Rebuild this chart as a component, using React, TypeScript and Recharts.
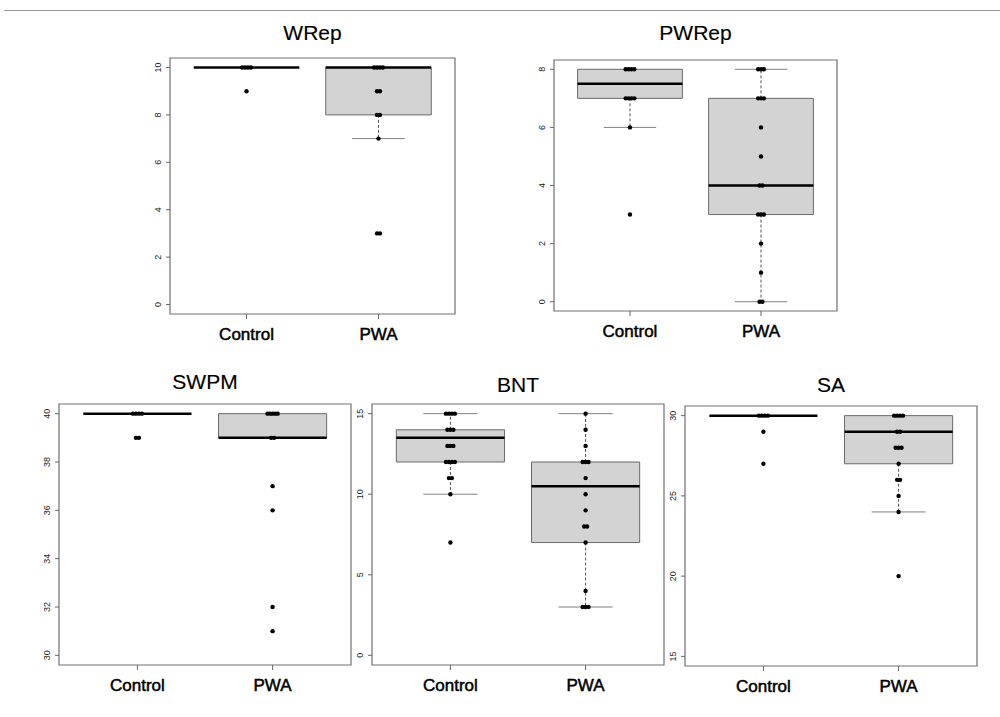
import {
  ComposedChart,
  XAxis,
  YAxis,
  Scatter,
  ReferenceArea,
  ReferenceLine,
} from 'recharts';

const groups = ['Control', 'PWA'];

// box summaries are [lower whisker, Q1, median, Q3, upper whisker]

// WRep
const wrepTicks = [0, 2, 4, 6, 8, 10];
const wrepControl = [10, 10, 10, 10, 9];
const wrepPwa = [10, 10, 10, 10, 9, 9, 8, 8, 7, 3, 3];
const wrepControlBox = [10, 10, 10, 10, 10];
const wrepPwaBox = [7, 8, 10, 10, 10];

// PWRep
const pwrepTicks = [0, 2, 4, 6, 8];
const pwrepControl = [8, 8, 8, 8, 7, 7, 7, 7, 6, 3];
const pwrepPwa = [8, 8, 8, 7, 7, 7, 6, 5, 4, 4, 3, 3, 3, 2, 1, 0, 0];
const pwrepControlBox = [6, 7, 7.5, 8, 8];
const pwrepPwaBox = [0, 3, 4, 7, 8];

// SWPM
const swpmTicks = [30, 32, 34, 36, 38, 40];
const swpmControl = [40, 40, 40, 40, 39, 39];
const swpmPwa = [40, 40, 40, 40, 40, 39, 39, 37, 36, 32, 31];
const swpmControlBox = [40, 40, 40, 40, 40];
const swpmPwaBox = [39, 39, 39, 40, 40];

// BNT
const bntTicks = [0, 5, 10, 15];
const bntControl = [15, 15, 15, 15, 14, 14, 14, 13, 13, 13, 12, 12, 12, 12, 11, 11, 10, 7];
const bntPwa = [15, 14, 13, 12, 12, 12, 11, 10, 9, 8, 8, 7, 4, 3, 3, 3];
const bntControlBox = [10, 12, 13.5, 14, 15];
const bntPwaBox = [3, 7, 10.5, 12, 15];

// SA
const saTicks = [15, 20, 25, 30];
const saControl = [30, 30, 30, 30, 29, 27];
const saPwa = [30, 30, 30, 30, 29, 29, 28, 28, 28, 27, 26, 26, 25, 24, 20];
const saControlBox = [30, 30, 30, 30, 30];
const saPwaBox = [24, 27, 29, 30, 30];

const FONT = "'Liberation Sans', Arial, Helvetica, sans-serif";

// side-by-side placement of tied values, like a stripchart jitter
function spread(values: number[], pos: number) {
  const counts: Record<string, number> = {};
  const seen: Record<string, number> = {};
  values.forEach((v) => {
    counts[v] = (counts[v] || 0) + 1;
  });
  return values.map((v) => {
    const n = counts[v];
    const k = seen[v] || 0;
    seen[v] = k + 1;
    const step = n > 1 ? Math.min(0.022, 0.075 / (n - 1)) : 0;
    return { x: pos + (k - (n - 1) / 2) * step, y: v };
  });
}

const YTick = (props: any) => {
  const { x, y, payload } = props;
  const tx = x - 3;
  return (
    <text
      x={tx}
      y={y}
      transform={`rotate(-90 ${tx} ${y})`}
      textAnchor="middle"
      fontSize={9}
      fill="#222"
      fontFamily={FONT}
    >
      {payload.value}
    </text>
  );
};

function boxParts(b: number[], pos: number, key: string) {
  const [lo, q1, med, q3, hi] = b;
  const parts: any[] = [];
  if (q3 > q1) {
    parts.push(
      <ReferenceArea
        key={key + 'box'}
        x1={pos - 0.4}
        x2={pos + 0.4}
        y1={q1}
        y2={q3}
        fill="#d3d3d3"
        fillOpacity={1}
        stroke="#6a6a6a"
        strokeWidth={1}
      />
    );
  }
  if (hi > q3) {
    parts.push(
      <ReferenceLine
        key={key + 'wh'}
        segment={[{ x: pos, y: q3 }, { x: pos, y: hi }]}
        stroke="#555"
        strokeDasharray="3 2"
      />,
      <ReferenceLine
        key={key + 'sh'}
        segment={[{ x: pos - 0.2, y: hi }, { x: pos + 0.2, y: hi }]}
        stroke="#808080"
      />
    );
  }
  if (lo < q1) {
    parts.push(
      <ReferenceLine
        key={key + 'wl'}
        segment={[{ x: pos, y: q1 }, { x: pos, y: lo }]}
        stroke="#555"
        strokeDasharray="3 2"
      />,
      <ReferenceLine
        key={key + 'sl'}
        segment={[{ x: pos - 0.2, y: lo }, { x: pos + 0.2, y: lo }]}
        stroke="#808080"
      />
    );
  }
  parts.push(
    <ReferenceLine
      key={key + 'med'}
      segment={[{ x: pos - 0.4, y: med }, { x: pos + 0.4, y: med }]}
      stroke="#000"
      strokeWidth={2.5}
    />
  );
  return parts;
}

type PanelProps = {
  title: string;
  ticks: number[];
  control: number[];
  pwa: number[];
  controlBox: number[];
  pwaBox: number[];
  left: number;
  top: number;
  right: number;
  bottom: number;
  titleY: number;
};

function Panel(p: PanelProps) {
  const w = p.right - p.left;
  const h = p.bottom - p.top;
  const lo = p.ticks[0];
  const hi = p.ticks[p.ticks.length - 1];
  const pad = (hi - lo) * 0.04;
  const dom = [lo - pad, hi + pad];
  const xDom = [0.42, 2.58];
  const points = [...spread(p.control, 1), ...spread(p.pwa, 2)];

  return (
    <div
      style={{
        position: 'absolute',
        left: p.left - 50,
        top: p.top - 40,
        width: w + 60,
        height: h + 80,
      }}
    >
      <div
        style={{
          position: 'absolute',
          left: 50,
          width: w,
          top: p.titleY - (p.top - 40) - 12,
          lineHeight: '24px',
          textAlign: 'center',
          fontSize: 21,
          fontFamily: FONT,
          color: '#000',
          WebkitTextStroke: '0.15px #000',
        }}
      >
        {p.title}
      </div>
      <ComposedChart
        width={w + 60}
        height={h + 80}
        margin={{ top: 40, right: 10, left: 10, bottom: 10 }}
      >
        <XAxis
          type="number"
          dataKey="x"
          domain={xDom}
          ticks={[1, 2]}
          interval={0}
          allowDataOverflow
          tickFormatter={(v: number) => groups[v - 1]}
          axisLine={false}
          tickLine={{ stroke: '#666' }}
          tickSize={5}
          tickMargin={9}
          height={30}
          tick={{
            fontSize: 17,
            fill: '#000',
            stroke: '#000',
            strokeWidth: 0.5,
            fontFamily: FONT,
          }}
        />
        <YAxis
          type="number"
          dataKey="y"
          domain={dom}
          ticks={p.ticks}
          interval={0}
          allowDataOverflow
          axisLine={false}
          tickLine={{ stroke: '#666' }}
          tickSize={4}
          tickMargin={2}
          width={40}
          tick={<YTick />}
        />
        <ReferenceArea
          x1={xDom[0]}
          x2={xDom[1]}
          y1={dom[0]}
          y2={dom[1]}
          fill="none"
          stroke="#707070"
          strokeWidth={1.2}
          ifOverflow="visible"
        />
        {boxParts(p.controlBox, 1, 'c')}
        {boxParts(p.pwaBox, 2, 'p')}
        <Scatter
          data={points}
          isAnimationActive={false}
          shape={(s: any) => <circle cx={s.cx} cy={s.cy} r={2.2} fill="#000" />}
        />
      </ComposedChart>
    </div>
  );
}

export default function App() {
  return (
    <div
      style={{
        position: 'absolute',
        left: 0,
        top: 0,
        width: 1000,
        height: 717,
        background: '#fff',
        overflow: 'hidden',
      }}
    >
      <div
        style={{
          position: 'absolute',
          left: 4,
          top: 10,
          width: 996,
          height: 1,
          background: '#9a9a9a',
        }}
      />
      <Panel
        title="WRep"
        ticks={wrepTicks}
        control={wrepControl}
        pwa={wrepPwa}
        controlBox={wrepControlBox}
        pwaBox={wrepPwaBox}
        left={170}
        top={58}
        right={455}
        bottom={314}
        titleY={33}
      />
      <Panel
        title="PWRep"
        ticks={pwrepTicks}
        control={pwrepControl}
        pwa={pwrepPwa}
        controlBox={pwrepControlBox}
        pwaBox={pwrepPwaBox}
        left={554}
        top={60}
        right={837}
        bottom={311}
        titleY={33}
      />
      <Panel
        title="SWPM"
        ticks={swpmTicks}
        control={swpmControl}
        pwa={swpmPwa}
        controlBox={swpmControlBox}
        pwaBox={swpmPwaBox}
        left={59}
        top={404}
        right={351}
        bottom={665}
        titleY={382}
      />
      <Panel
        title="BNT"
        ticks={bntTicks}
        control={bntControl}
        pwa={bntPwa}
        controlBox={bntControlBox}
        pwaBox={bntPwaBox}
        left={372}
        top={404}
        right={664}
        bottom={665}
        titleY={385}
      />
      <Panel
        title="SA"
        ticks={saTicks}
        control={saControl}
        pwa={saPwa}
        controlBox={saControlBox}
        pwaBox={saPwaBox}
        left={685}
        top={406}
        right={977}
        bottom={666}
        titleY={385}
      />
    </div>
  );
}
